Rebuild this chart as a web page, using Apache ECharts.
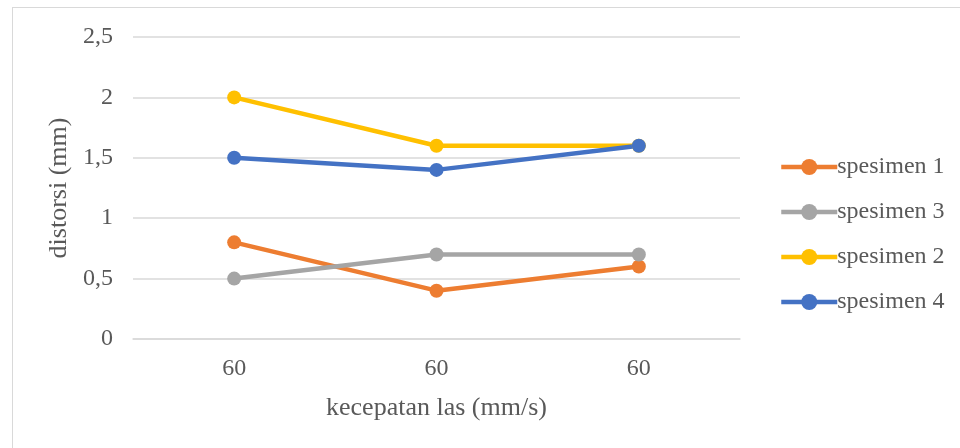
<!DOCTYPE html>
<html>
<head>
<meta charset="utf-8">
<script src="https://cdn.jsdelivr.net/npm/echarts@6/dist/echarts.min.js"></script>
<style>
html,body{margin:0;padding:0;background:#fff;}
#frame{position:absolute;left:12px;top:7px;width:948px;height:441px;border-left:1.5px solid #d9d9d9;border-top:1.5px solid #d9d9d9;box-sizing:border-box;}
#chart{position:absolute;left:0;top:0;width:960px;height:448px;}
</style>
</head>
<body>
<div id="frame"></div>
<div id="chart"></div>
<script>
var categories = ['60', '60', '60'];
var seriesNames = ['spesimen 1', 'spesimen 3', 'spesimen 2', 'spesimen 4'];
var spesimen1 = [0.8, 0.4, 0.6];
var spesimen3 = [0.5, 0.7, 0.7];
var spesimen2 = [2.0, 1.6, 1.6];
var spesimen4 = [1.5, 1.4, 1.6];
var colors = ['#ED7D31', '#A5A5A5', '#FFC000', '#4472C4'];
var values = [spesimen1, spesimen3, spesimen2, spesimen4];

var font = 'Liberation Serif';
var textColor = '#595959';

var chart = echarts.init(document.getElementById('chart'));
chart.setOption({
  animation: false,
  color: colors,
  textStyle: { fontFamily: font },
  grid: { left: 133, right: 220, top: 37, bottom: 109 },
  legend: {
    orient: 'vertical',
    left: 779,
    top: 155,
    padding: 0,
    itemWidth: 56,
    itemHeight: 20,
    itemGap: 21,
    lineStyle: { width: 4.5 },
    textStyle: { fontFamily: font, fontSize: 24, color: textColor, padding: [0, 0, 0, -5] },
    data: seriesNames
  },
  xAxis: {
    type: 'category',
    data: categories,
    boundaryGap: true,
    axisTick: { show: false },
    axisLine: { lineStyle: { color: '#d9d9d9', width: 1.5 } },
    axisLabel: { color: textColor, fontSize: 24, fontFamily: font, margin: 18 },
    name: 'kecepatan las (mm/s)',
    nameLocation: 'middle',
    nameGap: 56,
    nameTextStyle: { color: textColor, fontSize: 26, fontFamily: font }
  },
  yAxis: {
    type: 'value',
    min: 0,
    max: 2.5,
    interval: 0.5,
    axisLine: { show: false },
    axisTick: { show: false },
    splitLine: { lineStyle: { color: '#d9d9d9', width: 1.5 } },
    axisLabel: {
      color: textColor, fontSize: 24, fontFamily: font, margin: 20,
      formatter: function (v) { return String(v).replace('.', ','); }
    },
    name: 'distorsi (mm)',
    nameLocation: 'middle',
    nameGap: 58,
    nameTextStyle: { color: textColor, fontSize: 26, fontFamily: font }
  },
  series: seriesNames.map(function (n, i) {
    return {
      name: n,
      type: 'line',
      data: values[i],
      symbol: 'circle',
      symbolSize: 14,
      lineStyle: { width: 4.5, color: colors[i] },
      itemStyle: { color: colors[i] }
    };
  })
});
</script>
</body>
</html>
